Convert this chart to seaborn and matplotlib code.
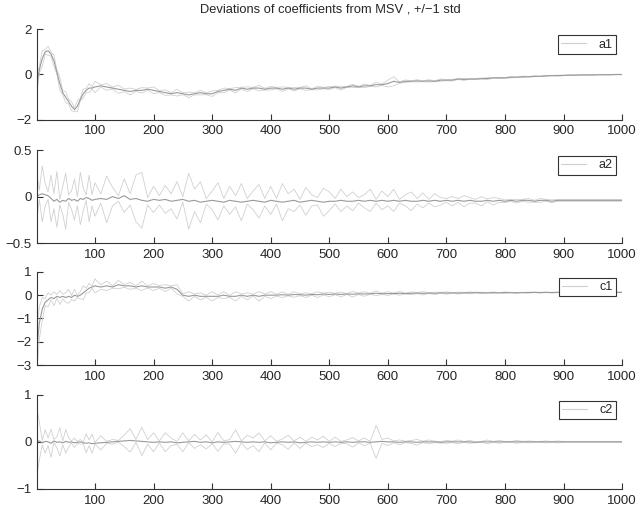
import numpy as np
import matplotlib
matplotlib.use("Agg")
import matplotlib.pyplot as plt
import seaborn as sns

# sample grid: every 5 up to 100, then every 10
t = [1, 5, 10, 15, 20, 25, 30, 35, 40, 45, 50, 55, 60, 65, 70, 75, 80, 85, 90, 95, 100] + list(range(110, 1001, 10))

a1_mean = [-0.4, 0.2, 0.7, 1.0, 1.05, 0.9, 0.6, 0.1, -0.4, -0.8, -1.0, -1.2, -1.4, -1.55, -1.4, -1.1, -0.85, -0.7, -0.6, -0.6, -0.55,
           -0.5, -0.55, -0.6, -0.65, -0.7, -0.75, -0.7, -0.7, -0.65, -0.7,
           -0.75, -0.8, -0.85, -0.8, -0.85, -0.9, -0.85, -0.8, -0.85, -0.85,
           -0.75, -0.7, -0.65, -0.7, -0.6, -0.65, -0.6, -0.6, -0.65, -0.6,
           -0.6, -0.65, -0.6, -0.65, -0.6, -0.6, -0.65, -0.6, -0.6, -0.6,
           -0.55, -0.6, -0.55, -0.5, -0.55, -0.5, -0.5, -0.45, -0.45, -0.4,
           -0.3, -0.35, -0.3, -0.3, -0.28, -0.3, -0.28, -0.3, -0.25, -0.25,
           -0.25, -0.2, -0.22, -0.2, -0.2, -0.18, -0.18, -0.15, -0.15, -0.15,
           -0.12, -0.12, -0.1, -0.1, -0.08, -0.08, -0.06, -0.05, -0.05, -0.04,
           -0.03, -0.03, -0.02, -0.02, -0.02, -0.01, -0.01, -0.01, 0.0, 0.0]
a1_std = [0.4, 0.15, 0.35, 0.1, 0.2, 0.08, 0.25, 0.1, 0.3, 0.08, 0.25, 0.1, 0.2, 0.08, 0.25, 0.05, 0.2, 0.08, 0.2, 0.05, 0.25,
          0.05, 0.15, 0.04, 0.18, 0.06, 0.15, 0.04, 0.12, 0.05, 0.15,
          0.04, 0.12, 0.05, 0.15, 0.04, 0.12, 0.05, 0.1, 0.04, 0.12,
          0.05, 0.1, 0.03, 0.12, 0.04, 0.1, 0.03, 0.12, 0.04, 0.08,
          0.03, 0.1, 0.03, 0.08, 0.03, 0.1, 0.02, 0.08, 0.03, 0.07,
          0.03, 0.08, 0.02, 0.07, 0.03, 0.08, 0.02, 0.1, 0.03, 0.15,
          0.2, 0.03, 0.06, 0.02, 0.05, 0.02, 0.05, 0.02, 0.05, 0.02,
          0.04, 0.02, 0.04, 0.015, 0.03, 0.02, 0.04, 0.015, 0.03, 0.015,
          0.03, 0.01, 0.03, 0.01, 0.02, 0.01, 0.02, 0.01, 0.02, 0.01,
          0.02, 0.01, 0.015, 0.01, 0.015, 0.01, 0.01, 0.01, 0.01, 0.01]

a2_mean = [0.0, 0.02, 0.03, 0.02, 0.01, -0.02, -0.05, -0.03, -0.06, -0.04, -0.05, -0.02, -0.04, -0.03, -0.05, -0.02, -0.03, -0.01, -0.02, -0.04, -0.03,
           -0.02, -0.03, 0.0, -0.02, 0.01, -0.03, -0.02, -0.04, -0.05, -0.03,
           -0.04, -0.03, -0.05, -0.04, -0.03, -0.05, -0.04, -0.06, -0.05, -0.04,
           -0.05, -0.06, -0.04, -0.05, -0.06, -0.05, -0.04, -0.05, -0.06, -0.04,
           -0.05, -0.06, -0.05, -0.04, -0.06, -0.05, -0.04, -0.05, -0.06, -0.05,
           -0.05, -0.04, -0.05, -0.05, -0.04, -0.05, -0.04, -0.05, -0.04, -0.05,
           -0.04, -0.05, -0.04, -0.05, -0.05, -0.04, -0.05, -0.04, -0.05, -0.04,
           -0.05, -0.04, -0.05, -0.04, -0.05, -0.05, -0.04, -0.05, -0.04, -0.05,
           -0.04, -0.05, -0.04, -0.04, -0.05, -0.04, -0.04, -0.05, -0.04, -0.04,
           -0.04, -0.04, -0.04, -0.04, -0.04, -0.04, -0.04, -0.04, -0.04, -0.04]
a2_std = [0.25, 0.05, 0.3, 0.12, 0.04, 0.25, 0.08, 0.3, 0.03, 0.15, 0.3, 0.04, 0.1, 0.22, 0.05, 0.28, 0.12, 0.03, 0.25, 0.06, 0.18,
          0.05, 0.25, 0.1, 0.03, 0.18, 0.06, 0.25, 0.3, 0.04, 0.14,
          0.05, 0.15, 0.08, 0.2, 0.03, 0.3, 0.12, 0.22, 0.03, 0.1,
          0.2, 0.04, 0.15, 0.06, 0.2, 0.03, 0.1, 0.18, 0.04, 0.15,
          0.03, 0.2, 0.08, 0.12, 0.03, 0.15, 0.06, 0.04, 0.15, 0.1,
          0.03, 0.12, 0.05, 0.1, 0.03, 0.07, 0.12, 0.02, 0.1, 0.05,
          0.12, 0.02, 0.06, 0.1, 0.03, 0.08, 0.02, 0.07, 0.04, 0.02,
          0.05, 0.02, 0.06, 0.03, 0.02, 0.05, 0.015, 0.04, 0.02, 0.015,
          0.01, 0.02, 0.01, 0.02, 0.01, 0.02, 0.01, 0.015, 0.01, 0.01,
          0.01, 0.01, 0.01, 0.01, 0.01, 0.01, 0.01, 0.01, 0.01, 0.01]

c1_mean = [-2.3, -1.2, -0.6, -0.3, -0.2, -0.1, -0.15, -0.05, -0.1, -0.05, -0.1, -0.05, -0.1, 0.0, -0.05, 0.0, 0.1, 0.2, 0.3, 0.35, 0.4,
           0.35, 0.4, 0.35, 0.45, 0.4, 0.4, 0.35, 0.4, 0.35, 0.35,
           0.35, 0.3, 0.35, 0.25, 0.0, -0.05, 0.0, -0.05, -0.05, -0.05,
           -0.05, 0.0, -0.05, -0.05, 0.0, -0.05, 0.0, -0.05, 0.0, 0.0,
           0.0, 0.02, 0.0, 0.03, 0.02, 0.0, 0.03, 0.02, 0.05, 0.03,
           0.05, 0.03, 0.05, 0.04, 0.06, 0.05, 0.06, 0.08, 0.06, 0.07,
           0.07, 0.08, 0.07, 0.08, 0.09, 0.08, 0.09, 0.08, 0.1, 0.09,
           0.1, 0.09, 0.1, 0.1, 0.11, 0.1, 0.1, 0.11, 0.1, 0.11,
           0.11, 0.1, 0.11, 0.11, 0.12, 0.11, 0.12, 0.11, 0.12, 0.12,
           0.12, 0.12, 0.12, 0.12, 0.12, 0.12, 0.12, 0.12, 0.12, 0.12]
c1_std = [0.9, 0.7, 0.5, 0.15, 0.3, 0.1, 0.3, 0.08, 0.3, 0.1, 0.2, 0.3, 0.08, 0.25, 0.05, 0.15, 0.3, 0.1, 0.2, 0.05, 0.3,
          0.1, 0.2, 0.05, 0.18, 0.06, 0.15, 0.05, 0.2, 0.04, 0.15,
          0.06, 0.15, 0.05, 0.2, 0.05, 0.2, 0.05, 0.15, 0.04, 0.2,
          0.05, 0.15, 0.04, 0.2, 0.05, 0.15, 0.04, 0.2, 0.05, 0.15,
          0.04, 0.12, 0.03, 0.12, 0.04, 0.1, 0.03, 0.12, 0.04, 0.1,
          0.03, 0.1, 0.02, 0.12, 0.03, 0.1, 0.02, 0.1, 0.03, 0.08,
          0.02, 0.08, 0.02, 0.06, 0.02, 0.07, 0.02, 0.05, 0.02, 0.05,
          0.015, 0.04, 0.015, 0.04, 0.015, 0.03, 0.01, 0.03, 0.01, 0.03,
          0.01, 0.02, 0.01, 0.02, 0.01, 0.015, 0.01, 0.015, 0.01, 0.01,
          0.01, 0.01, 0.01, 0.01, 0.01, 0.01, 0.01, 0.01, 0.01, 0.01]

c2_mean = [0.0, 0.02, -0.02, 0.01, 0.0, -0.03, 0.02, -0.01, 0.0, -0.02, 0.01, -0.01, 0.0, -0.02, -0.01, 0.0, -0.02, -0.03, -0.02, -0.04, -0.03,
           -0.02, -0.01, 0.0, 0.01, 0.02, 0.03, 0.02, 0.01, 0.0, -0.01,
           0.0, -0.01, 0.0, -0.02, -0.01, 0.0, 0.01, -0.01, 0.0, -0.02,
           0.0, -0.01, 0.0, 0.01, 0.0, -0.01, 0.0, -0.01, 0.0, -0.02,
           -0.01, 0.0, -0.01, 0.0, -0.02, -0.01, 0.0, -0.01, 0.0, -0.01,
           0.0, -0.01, 0.0, -0.01, 0.0, 0.0, -0.01, 0.0, 0.01, 0.0,
           0.0, -0.01, 0.0, 0.0, -0.01, 0.0, 0.0, 0.0, -0.01, 0.0,
           0.0, 0.0, 0.0, 0.0, -0.01, 0.0, 0.0, 0.0, 0.0, 0.0,
           0.0, 0.0, 0.0, 0.0, 0.0, 0.0, 0.0, 0.0, 0.0, 0.0,
           0.0, 0.0, 0.0, 0.0, 0.0, 0.0, 0.0, 0.0, 0.0, 0.0]
c2_std = [0.7, 0.4, 0.05, 0.25, 0.08, 0.3, 0.03, 0.12, 0.3, 0.04, 0.25, 0.1, 0.02, 0.1, 0.02, 0.05, 0.02, 0.2, 0.06, 0.2, 0.02,
          0.15, 0.02, 0.05, 0.02, 0.12, 0.25, 0.03, 0.3, 0.05, 0.2,
          0.02, 0.2, 0.08, 0.03, 0.2, 0.02, 0.15, 0.05, 0.15, 0.02,
          0.2, 0.03, 0.05, 0.25, 0.02, 0.15, 0.08, 0.2, 0.02, 0.15,
          0.02, 0.06, 0.15, 0.02, 0.12, 0.02, 0.1, 0.05, 0.12, 0.02,
          0.1, 0.02, 0.04, 0.1, 0.02, 0.08, 0.02, 0.35, 0.04, 0.08,
          0.02, 0.05, 0.015, 0.03, 0.06, 0.015, 0.04, 0.015, 0.015, 0.03,
          0.015, 0.04, 0.01, 0.03, 0.01, 0.01, 0.04, 0.01, 0.03, 0.01,
          0.01, 0.03, 0.01, 0.02, 0.01, 0.01, 0.02, 0.01, 0.02, 0.01,
          0.01, 0.01, 0.01, 0.01, 0.01, 0.01, 0.01, 0.01, 0.01, 0.01]

labels = ["a1", "a2", "c1", "c2"]
means = [a1_mean, a2_mean, c1_mean, c2_mean]
stds = [a1_std, a2_std, c1_std, c2_std]
ylims = [(-2, 2), (-0.5, 0.5), (-3, 1), (-1, 1)]
yticks = [[-2, 0, 2], [-0.5, 0, 0.5], [-3, -2, -1, 0, 1], [-1, 0, 1]]

sns.set_style("ticks")
plt.rcParams["font.family"] = ["Liberation Sans", "DejaVu Sans"]

fig = plt.figure(figsize=(6.43, 5.12), dpi=100)
# axes boxes (left, bottom, width, height) in figure fraction
boxes = [(0.0575, 0.766, 0.910, 0.177),
         (0.0575, 0.525, 0.910, 0.182),
         (0.0575, 0.287, 0.910, 0.182),
         (0.0575, 0.045, 0.910, 0.184)]

for lab, m, s, yl, yt, box in zip(labels, means, stds, ylims, yticks, boxes):
    ax = fig.add_axes(box)
    m = np.array(m)
    s = np.array(s)
    sns.lineplot(x=t, y=m + s, ax=ax, color="#d0d0d0", lw=0.6)
    sns.lineplot(x=t, y=m - s, ax=ax, color="#d0d0d0", lw=0.6)
    sns.lineplot(x=t, y=m, ax=ax, color="#9a9a9a", lw=0.8, label=lab)
    ax.set_xlim(1, 1000)
    ax.set_ylim(*yl)
    ax.set_xticks(range(100, 1001, 100))
    ax.set_yticks(yt)
    ax.set_yticklabels([f"{v:g}".replace("-", "\u2212") for v in yt])
    ax.tick_params(direction="in", length=4, width=0.8, color="#333333",
                   labelsize=9.5, pad=4)
    for sp in ["left", "bottom"]:
        ax.spines[sp].set_linewidth(0.8)
        ax.spines[sp].set_color("#333333")
    sns.despine(ax=ax)
    leg = ax.legend(loc="upper right", fontsize=9, frameon=True, fancybox=False,
                    edgecolor="#333333", framealpha=1, handlelength=2.0,
                    borderpad=0.25, borderaxespad=0.5, handletextpad=1.0)
    leg.get_frame().set_linewidth(0.8)
    leg.get_lines()[0].set_color("#cfcfcf")

fig.text(0.513, 0.982, "Deviations of coefficients from MSV , +/\u22121 std",
         ha="center", va="center", fontsize=9.3)

fig.savefig("out.png", dpi=100)
